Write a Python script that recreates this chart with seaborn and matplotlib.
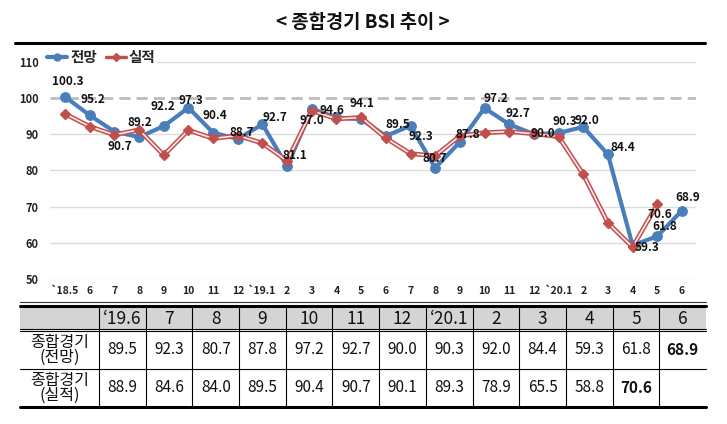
import numpy as np
import pandas as pd
import matplotlib
matplotlib.use('Agg')
import matplotlib.pyplot as plt
from matplotlib.lines import Line2D
from matplotlib.patches import Rectangle
import seaborn as sns

# 월별 데이터
months = ["`18.5", "6", "7", "8", "9", "10", "11", "12", "`19.1", "2", "3", "4", "5",
          "6", "7", "8", "9", "10", "11", "12", "`20.1", "2", "3", "4", "5", "6"]
outlook = [100.3, 95.2, 90.7, 89.2, 92.2, 97.3, 90.4, 88.7, 92.7, 81.1, 97.0, 94.6, 94.1,
           89.5, 92.3, 80.7, 87.8, 97.2, 92.7, 90.0, 90.3, 92.0, 84.4, 59.3, 61.8, 68.9]
actual = [95.6, 92.1, 89.8, 91.2, 84.2, 91.1, 88.8, 89.6, 87.5, 82.6, 96.5, 94.2, 94.6,
          88.9, 84.6, 84.0, 89.5, 90.4, 90.7, 90.1, 89.3, 78.9, 65.5, 58.8, 70.6]
table_cols = ["‘19.6", "7", "8", "9", "10", "11", "12", "‘20.1", "2", "3", "4", "5", "6"]
row_labels = ["종합경기\n(전망)", "종합경기\n(실적)"]

# 라벨 위치 (화면 픽셀 오프셋)
label_off = [(3, -15), (3, -16), (5, 15), (1, -15), (-1, -20), (2, -7), (2, -17), (4, -6),
             (12, -7), (8, -11), (0, 12), (-5, -7), (1, -16), (12, -11), (10, 11), (0, -9),
             (8, -8), (11, -10), (9, -11), (9, -1), (6, -12), (4, -6), (15, -7), (14, 2),
             (7, -10), (6, -13)]

sns.set_theme(style='white')
plt.rcParams['font.family'] = ['Noto Sans CJK KR', 'DejaVu Sans']

BLUE = '#4A7EBB'
RED = '#C0504D'

df_o = pd.DataFrame({'x': np.arange(len(outlook)), 'v': outlook})
df_a = pd.DataFrame({'x': np.arange(len(actual)), 'v': actual})

W, H = 727, 424
fig = plt.figure(figsize=(W / 100, H / 100), dpi=100)

# 표 머리 배경
x0, x1 = 99, 706
fig.add_artist(Rectangle((20 / W, 1 - 329 / H), (x1 - 20) / W, 23 / H,
                         transform=fig.transFigure, facecolor='#D4D4D4',
                         edgecolor='none', zorder=0))

# 제목과 표 (픽셀 좌표 레이어)
lay = fig.add_axes([0, 0, 1, 1])
lay.set_xlim(0, W)
lay.set_ylim(H, 0)
lay.axis('off')

ax = fig.add_axes([50 / W, 1 - 279 / H, (696 - 50) / W, (279 - 61.7) / H])
ax.patch.set_alpha(0)

ax.set_ylim(50, 110)
ax.set_xlim(-0.61, 25.57)
for t in range(50, 111, 10):
    if t == 100:
        ax.axhline(t, color='#BDBDBD', lw=2, ls=(0, (4, 2.2)), zorder=1)
    else:
        ax.axhline(t, color='#DCDCDC', lw=1, zorder=1)

sns.lineplot(data=df_o, x='x', y='v', color=BLUE, lw=3, marker='o', markersize=7,
             markeredgecolor=BLUE, ax=ax, zorder=3)
sns.lineplot(data=df_a, x='x', y='v', color=RED, lw=3.4, ax=ax, zorder=4)
ax.plot(df_a['x'], df_a['v'], color='#FBE9E9', lw=1.2, zorder=5)
ax.plot(df_a['x'], df_a['v'], ls='none', marker='D', markersize=5, color=RED, zorder=6)

for i, v in enumerate(outlook):
    dx, dy = label_off[i]
    ax.annotate(f"{v:.1f}", (i, v), xytext=(dx, -dy), textcoords='offset pixels',
                ha='center', va='center', fontsize=8.5, fontweight='bold', color='#111111',
                zorder=8)
ax.annotate(f"{actual[-1]:.1f}", (len(actual) - 1, actual[-1]), xytext=(2, -10),
            textcoords='offset pixels', ha='center', va='center', fontsize=8.5,
            fontweight='bold', color='#111111', zorder=8)

ax.set_xticks(range(len(months)), months)
ax.set_yticks(range(50, 111, 10))
ax.tick_params(length=0)
ax.tick_params(axis='x', pad=5, labelsize=7.5)
ax.tick_params(axis='y', pad=8, labelsize=8)
for lab in ax.get_xticklabels() + ax.get_yticklabels():
    lab.set_fontweight('bold')
    lab.set_color('#222222')
ax.set_xlabel('')
ax.set_ylabel('')
sns.despine(ax=ax, left=True, bottom=True)

handles = [Line2D([], [], color=BLUE, lw=3, marker='o', markersize=5),
           Line2D([], [], color=RED, lw=2.5, marker='D', markersize=4)]
leg = ax.legend(handles, ['전망', '실적'], loc='center left',
                bbox_to_anchor=(38 / W, 1 - 57 / H), bbox_transform=fig.transFigure,
                frameon=True, facecolor='white', edgecolor='none', framealpha=1,
                handlelength=1.4, handletextpad=0.2, columnspacing=0.6, ncol=2,
                borderpad=0.1, prop={'weight': 'bold', 'size': 10.5})
leg.set_zorder(10)

fig.text(363 / W, 1 - 22 / H, '< 종합경기 BSI 추이 >', ha='center', va='center',
         fontsize=13.5, fontweight='bold', color='#111111')
lay.plot([15, 705], [43, 43], color='black', lw=2.2)

cw = (x1 - x0) / len(table_cols)
lay.plot([20, x1], [302, 302], color='#333333', lw=0.8)
lay.plot([20, x1], [306, 306], color='black', lw=2.2)
lay.plot([20, x1], [328.5, 328.5], color='black', lw=0.8)
lay.plot([20, x1], [331, 331], color='black', lw=0.8)
lay.plot([20, x1], [369, 369], color='black', lw=0.8)
lay.plot([20, x1], [407, 407], color='black', lw=2.2)
for k in range(len(table_cols)):
    xv = x0 + k * cw
    lay.plot([xv, xv], [306, 407], color='black', lw=0.8)

n = len(table_cols)
rows = [outlook[-n:], actual[-(n - 1):] + [None]]
last_idx = [n - 1, n - 2]
for k, c in enumerate(table_cols):
    cx = x0 + (k + 0.5) * cw
    lay.text(cx, 319, c, ha='center', va='center', fontsize=12.5, color='#111111')
for r, (vals, ytxt) in enumerate(zip(rows, [350, 388])):
    lay.text(60, ytxt, row_labels[r], ha='center', va='center', fontsize=11.5,
             linespacing=0.85, color='#111111')
    for k, v in enumerate(vals):
        if v is None:
            continue
        cx = x0 + (k + 0.5) * cw
        bold = k == last_idx[r]
        lay.text(cx, ytxt, f"{v:.1f}", ha='center', va='center', fontsize=11,
                 fontweight='bold' if bold else 'normal', color='#111111')

fig.savefig('out.png', dpi=100)
